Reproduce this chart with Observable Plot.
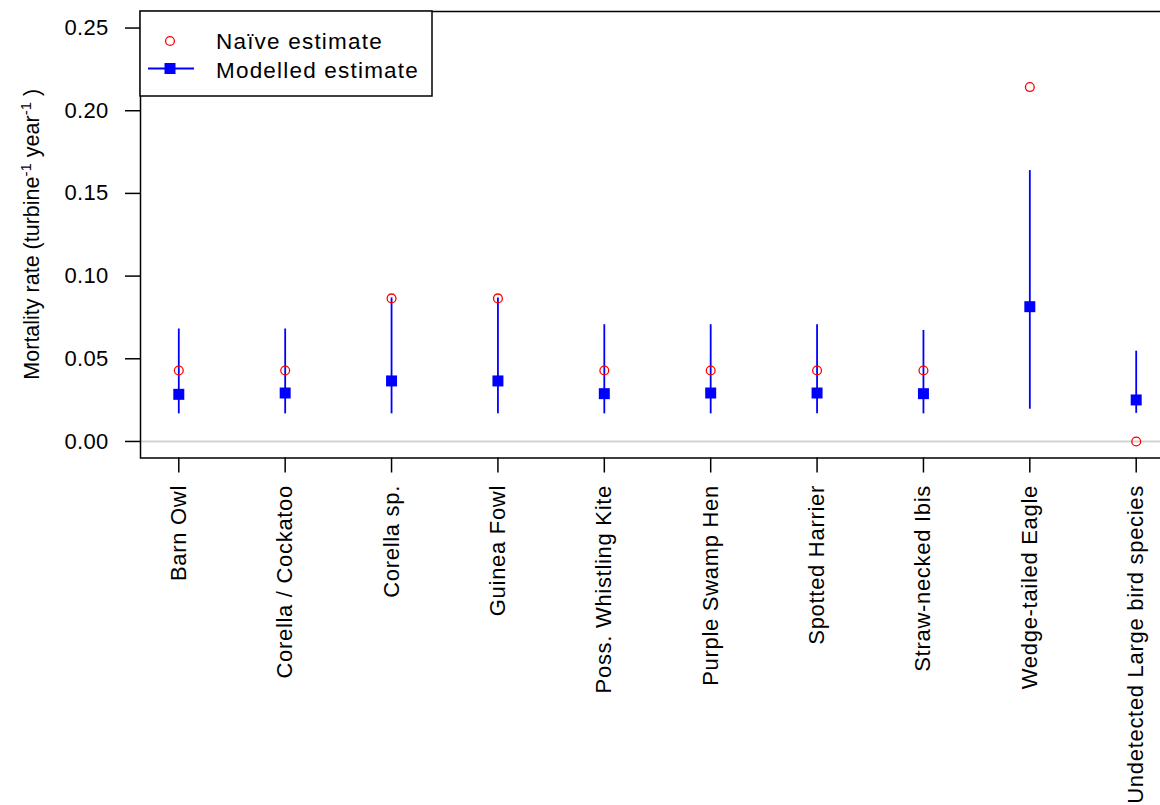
<!DOCTYPE html>
<html><head><meta charset="utf-8">
<script src="https://cdn.jsdelivr.net/npm/d3@7"></script>
<script src="https://cdn.jsdelivr.net/npm/@observablehq/plot@0.6"></script>
<style>
html,body{margin:0;padding:0;background:#fff;overflow:hidden;}
#wrap{position:relative;width:1160px;height:805px;overflow:hidden;}
#overlay{position:absolute;left:0;top:0;pointer-events:none;}
svg g[aria-label^="x-axis"] text{letter-spacing:0.7px;font-size:22px;}
svg g[aria-label^="y-axis"] text{font-size:22px;letter-spacing:0.3px;}
svg g[aria-label^="x-axis"] line, svg g[aria-label^="x-axis"] path,
svg g[aria-label^="y-axis"] line, svg g[aria-label^="y-axis"] path{stroke-width:1.5px;}
</style></head><body><div id="wrap"></div>
<script>
const categories = ["Barn Owl","Corella / Cockatoo","Corella sp.","Guinea Fowl","Poss. Whistling Kite","Purple Swamp Hen","Spotted Harrier","Straw-necked Ibis","Wedge-tailed Eagle","Undetected Large bird species"];
const naive    = [0.0429,0.0429,0.0865,0.0865,0.0429,0.0429,0.0429,0.0429,0.2143,0.0000];
const modelled = [0.0285,0.0293,0.0366,0.0366,0.0289,0.0293,0.0293,0.0289,0.0815,0.0251];
const lower    = [0.0167,0.0167,0.0167,0.0167,0.0167,0.0167,0.0167,0.0167,0.0195,0.0170];
const upper    = [0.0680,0.0680,0.0868,0.0868,0.0706,0.0706,0.0706,0.0671,0.1638,0.0546];
const yTickCount = 5;
const legendLabels = ["Naïve estimate","Modelled estimate"];
const yLabelParts = [["Mortality rate (turbine",false],["-1",true],[" year",false],["-1",true],[" )",false]];

const rows = categories.map((c,i)=>({species:c, naive:naive[i], mod:modelled[i], lo:lower[i], hi:upper[i]}));

const plot = Plot.plot({
  width: 1160, height: 805,
  marginLeft: 140, marginRight: -14, marginTop: 11, marginBottom: 347.5,
  style: {fontFamily: "'Liberation Sans', Arial, sans-serif", fontSize: "22px", background: "white", color: "black"},
  x: {type: "point", domain: categories, padding: 0.36, round: false, label: null, tickRotate: -90, tickSize: 15, tickPadding: 12},
  y: {domain: [-0.01, 0.26], ticks: yTickCount, tickFormat: d3.format(".2f"), tickSize: 15, tickPadding: 17, label: null},
  marks: [
    Plot.ruleY([0], {stroke: "#d3d3d3", strokeWidth: 2}),
    Plot.ruleX(rows, {x: "species", y1: "lo", y2: "hi", stroke: "blue", strokeWidth: 1.8}),
    Plot.dot(rows, {x: "species", y: "mod", symbol: "square", r: 6.2, fill: "blue"}),
    Plot.dot(rows, {x: "species", y: "naive", r: 4.4, stroke: "red", strokeWidth: 1.3, fill: "none"}),
    Plot.frame({stroke: "black", strokeWidth: 1.5})
  ]
});
document.getElementById("wrap").appendChild(plot);

// y-axis title with superscripts
const yr = plot.scale("y").range;
const yc = (yr[0] + yr[1]) / 2;
const svg = d3.select(plot);
const t = svg.append("text")
  .attr("transform", `translate(39,${yc}) rotate(-90)`)
  .attr("text-anchor", "middle")
  .attr("font-size", 21.5)
  .attr("fill", "black");
let prevSup = false;
yLabelParts.forEach(([s, sup]) => {
  const ts = t.append("tspan").text(s);
  if (sup) ts.attr("font-size", 15).attr("dy", -8);
  else { ts.attr("font-size", 21.5); if (prevSup) ts.attr("dy", 8); }
  prevSup = sup;
});

// legend overlay
const ov = d3.select("#wrap").append("svg").attr("id","overlay").attr("width",1160).attr("height",805)
  .style("font-family","'Liberation Sans', Arial, sans-serif");
const L = {x0: 140, y0: 11, x1: 432, y1: 96};
ov.append("rect").attr("x", L.x0).attr("y", L.y0).attr("width", L.x1 - L.x0).attr("height", L.y1 - L.y0)
  .attr("fill", "white").attr("stroke", "black").attr("stroke-width", 1.5);
ov.append("circle").attr("cx", 170).attr("cy", 41).attr("r", 4.4).attr("fill", "none").attr("stroke", "red").attr("stroke-width", 1.3);
ov.append("line").attr("x1", 148).attr("x2", 194).attr("y1", 68.5).attr("y2", 68.5).attr("stroke", "blue").attr("stroke-width", 1.8);
ov.append("rect").attr("x", 164.5).attr("y", 63).attr("width", 11).attr("height", 11).attr("fill", "blue");
legendLabels.forEach((s, i) => {
  ov.append("text").attr("x", 216).attr("y", i === 0 ? 49 : 77.5).attr("font-size", 22.5)
    .attr("letter-spacing", 1.2).attr("fill", "black").text(s);
});
</script></body></html>
